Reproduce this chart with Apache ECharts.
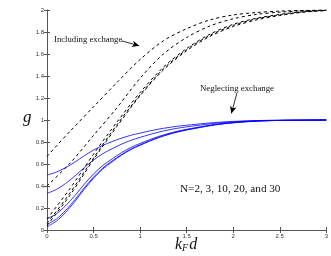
<!DOCTYPE html>
<html><head><meta charset="utf-8">
<script src="https://cdn.jsdelivr.net/npm/echarts@6/dist/echarts.min.js"></script>
<style>html,body{margin:0;padding:0;background:#fff}#c{width:331px;height:256px}</style>
</head><body><div id="c"></div>
<script>
// x positions (k_F d)
const xBlue = [0, 0.1, 0.2, 0.3, 0.4, 0.5, 0.6, 0.7, 0.8, 0.9, 1.0, 1.2, 1.4, 1.6, 1.8, 2.0, 2.25, 2.5, 3.0];
const xDash = [0, 0.25, 0.5, 0.75, 1.0, 1.25, 1.5, 1.75, 2.0, 2.25, 2.5, 2.75, 3.0];
// Neglecting exchange (blue solid)
const negN2  = [0.5, 0.526, 0.567, 0.618, 0.675, 0.727, 0.77, 0.804, 0.835, 0.861, 0.881, 0.917, 0.943, 0.961, 0.977, 0.987, 0.995, 0.998, 1.0];
const negN3  = [0.333, 0.368, 0.423, 0.491, 0.567, 0.636, 0.694, 0.739, 0.78, 0.815, 0.842, 0.89, 0.925, 0.949, 0.969, 0.983, 0.993, 0.997, 1.0];
const negN10 = [0.1, 0.147, 0.221, 0.313, 0.416, 0.509, 0.587, 0.647, 0.703, 0.75, 0.787, 0.851, 0.898, 0.931, 0.959, 0.977, 0.991, 0.996, 1.0];
const negN20 = [0.05, 0.1, 0.178, 0.276, 0.383, 0.481, 0.564, 0.628, 0.686, 0.736, 0.775, 0.843, 0.893, 0.927, 0.956, 0.975, 0.99, 0.996, 1.0];
const negN30 = [0.03, 0.08, 0.16, 0.26, 0.37, 0.47, 0.555, 0.62, 0.68, 0.73, 0.77, 0.84, 0.89, 0.925, 0.955, 0.975, 0.99, 0.996, 1.0];
// Including exchange (black dashed)
const incN2  = [0.67, 0.9, 1.12, 1.34, 1.55, 1.72, 1.83, 1.91, 1.955, 1.977, 1.99, 1.996, 2.0];
const incN3  = [0.40, 0.61, 0.86, 1.11, 1.38, 1.6, 1.75, 1.855, 1.92, 1.96, 1.98, 1.993, 2.0];
const incN10 = [0.1, 0.38, 0.69, 0.98, 1.25, 1.48, 1.65, 1.78, 1.87, 1.925, 1.96, 1.985, 1.998];
const incN20 = [0.06, 0.34, 0.655, 0.955, 1.23, 1.465, 1.64, 1.77, 1.86, 1.92, 1.955, 1.982, 1.996];
const incN30 = [0.04, 0.32, 0.64, 0.94, 1.22, 1.455, 1.63, 1.76, 1.85, 1.91, 1.95, 1.98, 1.995];
const xTicks = [0, 0.5, 1, 1.5, 2, 2.5, 3];
const yTicks = [0, 0.2, 0.4, 0.6, 0.8, 1, 1.2, 1.4, 1.6, 1.8, 2];
// annotation arrows in data coordinates
const arrowInc = [[0.80, 1.72], [0.99, 1.675]];
const arrowNeg = [[2.04, 1.245], [1.98, 1.06]];

const zip = (xs, ys) => xs.map((x, i) => [x, ys[i]]);
const blue = (name, ys) => ({ name, type: 'line', data: zip(xBlue, ys), smooth: 0.3, showSymbol: false,
  lineStyle: { color: '#0000ff', width: 0.8 }, z: 3 });
const dash = (name, ys) => ({ name, type: 'line', data: zip(xDash, ys), smooth: 0.3, showSymbol: false,
  lineStyle: { color: '#000', width: 1, type: [3, 3] }, z: 4 });

const tickFmt = v => String(+v.toFixed(1));
const axisCommon = {
  axisLine: { show: true, lineStyle: { color: '#555', width: 1 } },
  axisTick: { show: true, inside: true, length: 3, lineStyle: { color: '#555' } },
  splitLine: { show: false }
};
const arrowPair = (a) => [
  { coord: a[0], symbol: 'none' },
  { coord: a[1], symbol: 'arrow', symbolSize: [5, 7] }
];
const chart = echarts.init(document.getElementById('c'), null, { renderer: 'canvas' });
chart.setOption({
  animation: false,
  grid: { left: 47, top: 10, right: 4, bottom: 26 },
  xAxis: [
    Object.assign({ type: 'value', min: 0, max: 3, interval: 0.5, position: 'bottom',
      axisLabel: { fontSize: 6, color: '#333', margin: 3, fontFamily: 'Liberation Sans', formatter: tickFmt } }, axisCommon),
    Object.assign({ type: 'value', min: 0, max: 3, interval: 0.5, position: 'top', axisLabel: { show: false } }, axisCommon)
  ],
  yAxis: [
    Object.assign({ type: 'value', min: 0, max: 2, interval: 0.2, position: 'left',
      axisLabel: { fontSize: 6, color: '#333', margin: 3, fontFamily: 'Liberation Sans', formatter: tickFmt } }, axisCommon),
    Object.assign({ type: 'value', min: 0, max: 2, interval: 0.2, position: 'right', axisLabel: { show: false } }, axisCommon)
  ],
  series: [
    blue('N=2 neg', negN2), blue('N=3 neg', negN3), blue('N=10 neg', negN10), blue('N=20 neg', negN20), blue('N=30 neg', negN30),
    dash('N=2 inc', incN2), dash('N=3 inc', incN3), dash('N=10 inc', incN10), dash('N=20 inc', incN20), dash('N=30 inc', incN30),
    { type: 'line', data: [[0, 0]], showSymbol: false, lineStyle: { opacity: 0 }, silent: true,
      markLine: { silent: true, symbol: ['none', 'arrow'], symbolSize: 7, label: { show: false },
        itemStyle: { color: '#000' },
        lineStyle: { color: '#000', width: 0.8, type: 'solid' },
        data: [arrowPair(arrowInc), arrowPair(arrowNeg)] } }
  ],
  graphic: [
    { type: 'text', left: 54, top: 35, style: { text: 'Including exchange', font: '8.7px "Liberation Serif"', fill: '#111' } },
    { type: 'text', left: 200, top: 84, style: { text: 'Neglecting exchange', font: '8.8px "Liberation Serif"', fill: '#111' } },
    { type: 'text', left: 180, top: 184, style: { text: 'N=2, 3, 10, 20, and 30', font: '11.2px "Liberation Serif"', fill: '#111' } },
    { type: 'text', left: 23, top: 109, style: { text: 'g', font: 'italic 17px "Liberation Serif"', fill: '#111' } },
    { type: 'text', left: 175, top: 237, style: {
      text: '{a|k}{b|F}{a|d}',
      rich: { a: { font: 'italic 16px "Liberation Serif"', fill: '#111' },
              b: { font: 'italic 10px "Liberation Serif"', fill: '#111', verticalAlign: 'bottom', padding: [6, 1, 0, 0] } } } }
  ]
});
</script></body></html>
